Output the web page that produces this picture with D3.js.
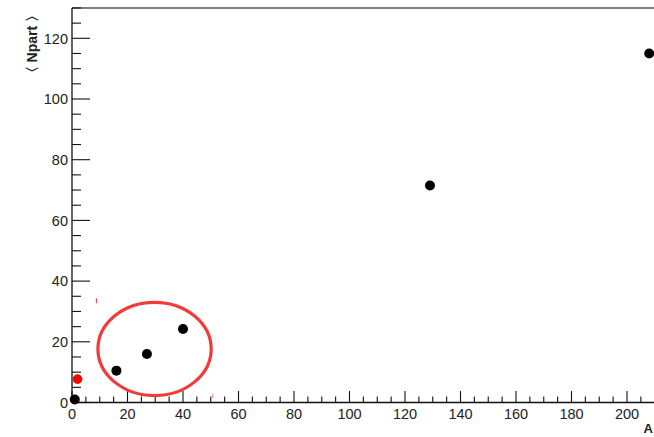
<!DOCTYPE html>
<html>
<head>
<meta charset="utf-8">
<script src="https://cdn.jsdelivr.net/npm/d3@7"></script>
<style>
  html, body { margin: 0; padding: 0; background: #fff; }
  svg { display: block; }
  text { font-family: "Liberation Sans", Arial, Helvetica, sans-serif; fill: #222; }
</style>
</head>
<body>
<svg id="chart" width="654" height="437"></svg>
<script>
// Mass number A vs mean number of participants
const massNumbers = [1, 16, 27, 40, 129, 208];
const nPart = [1.0, 10.5, 16.0, 24.2, 71.5, 115.0];
const highlightA = [2];
const highlightNpart = [7.7];
const xTicks = [0, 20, 40, 60, 80, 100, 120, 140, 160, 180, 200];
const yTicks = [0, 20, 40, 60, 80, 100, 120];
// Region circled on the plot, in data units
const circledRegion = { x0: 8.8, x1: 50.7, y0: 1.8, y1: 33.5 };

const svg = d3.select("#chart");
const margin = { left: 72, top: 8, right: 0, bottom: 34.5 };
const W = 654, H = 437;

const x = d3.scaleLinear().domain([0, 210]).range([margin.left, margin.left + 210 * 2.775]);
const y = d3.scaleLinear().domain([0, 130]).range([402.5, 402.5 - 130 * 3.035]);

// Frame: top edge
svg.append("line")
  .attr("x1", margin.left).attr("x2", W)
  .attr("y1", y(130)).attr("y2", y(130))
  .attr("stroke", "#555").attr("stroke-width", 1.6);

// X axis with inward ticks
const xMinor = d3.range(0, 211, 5);
const xAxis = svg.append("g").attr("transform", `translate(0,${y(0)})`);
xAxis.append("line").attr("x1", x(0)).attr("x2", W).attr("stroke", "#111").attr("stroke-width", 1.3);
xAxis.selectAll("line.tick").data(xMinor).join("line")
  .attr("class", "tick")
  .attr("x1", d => x(d)).attr("x2", d => x(d))
  .attr("y1", 0).attr("y2", d => d % 20 === 0 ? -11.5 : -6)
  .attr("stroke", "#111").attr("stroke-width", 1.1);
xAxis.selectAll("text").data(xTicks).join("text")
  .attr("x", d => x(d)).attr("y", 16)
  .attr("text-anchor", "middle")
  .attr("font-size", 14.5)
  .text(d => d);

// Y axis with inward ticks
const yMinor = d3.range(0, 131, 5);
const yAxis = svg.append("g").attr("transform", `translate(${x(0)},0)`);
yAxis.append("line").attr("y1", y(0)).attr("y2", y(130)).attr("stroke", "#111").attr("stroke-width", 1.3);
yAxis.selectAll("line.tick").data(yMinor).join("line")
  .attr("class", "tick")
  .attr("y1", d => y(d)).attr("y2", d => y(d))
  .attr("x1", 0).attr("x2", d => d % 20 === 0 ? 18 : 9)
  .attr("stroke", "#111").attr("stroke-width", 1.1);
yAxis.selectAll("text").data(yTicks).join("text")
  .attr("x", -4).attr("y", d => y(d))
  .attr("dy", "0.36em")
  .attr("text-anchor", "end")
  .attr("font-size", 14.5)
  .text(d => d);

// Axis titles
svg.append("text")
  .attr("transform", `translate(37,${y(130)}) rotate(-90)`)
  .attr("text-anchor", "end")
  .attr("font-size", 14)
  .attr("font-weight", "bold")
  .text("\u3008 Npart \u3009");
svg.append("text")
  .attr("x", 653).attr("y", 433)
  .attr("text-anchor", "end")
  .attr("font-size", 13)
  .attr("font-weight", "bold")
  .text("A");

// Data points
svg.append("g").selectAll("circle")
  .data(massNumbers.map((a, i) => [a, nPart[i]]))
  .join("circle")
  .attr("cx", d => x(d[0])).attr("cy", d => y(d[1]))
  .attr("r", 5).attr("fill", "#000");

svg.append("g").selectAll("circle")
  .data(highlightA.map((a, i) => [a, highlightNpart[i]]))
  .join("circle")
  .attr("cx", d => x(d[0])).attr("cy", d => y(d[1]))
  .attr("r", 4.8).attr("fill", "#f00");

// Red ellipse around the light-ion points
const ex0 = x(circledRegion.x0), ex1 = x(circledRegion.x1);
const ey0 = y(circledRegion.y1), ey1 = y(circledRegion.y0);
svg.append("ellipse")
  .attr("cx", (ex0 + ex1) / 2).attr("cy", (ey0 + ey1) / 2)
  .attr("rx", (ex1 - ex0) / 2 - 1.5).attr("ry", (ey1 - ey0) / 2 - 1.5)
  .attr("fill", "none").attr("stroke", "#f23a3a").attr("stroke-width", 3.2);

// Small corner marks of the ellipse's bounding box
svg.append("line")
  .attr("x1", ex0).attr("x2", ex0).attr("y1", ey0 - 2.5).attr("y2", ey0 + 2.5)
  .attr("stroke", "#f33").attr("stroke-width", 1);
svg.append("line")
  .attr("x1", ex1).attr("x2", ex1).attr("y1", ey1 - 3.5).attr("y2", ey1 + 1)
  .attr("stroke", "#f88").attr("stroke-width", 1);
</script>
</body>
</html>
